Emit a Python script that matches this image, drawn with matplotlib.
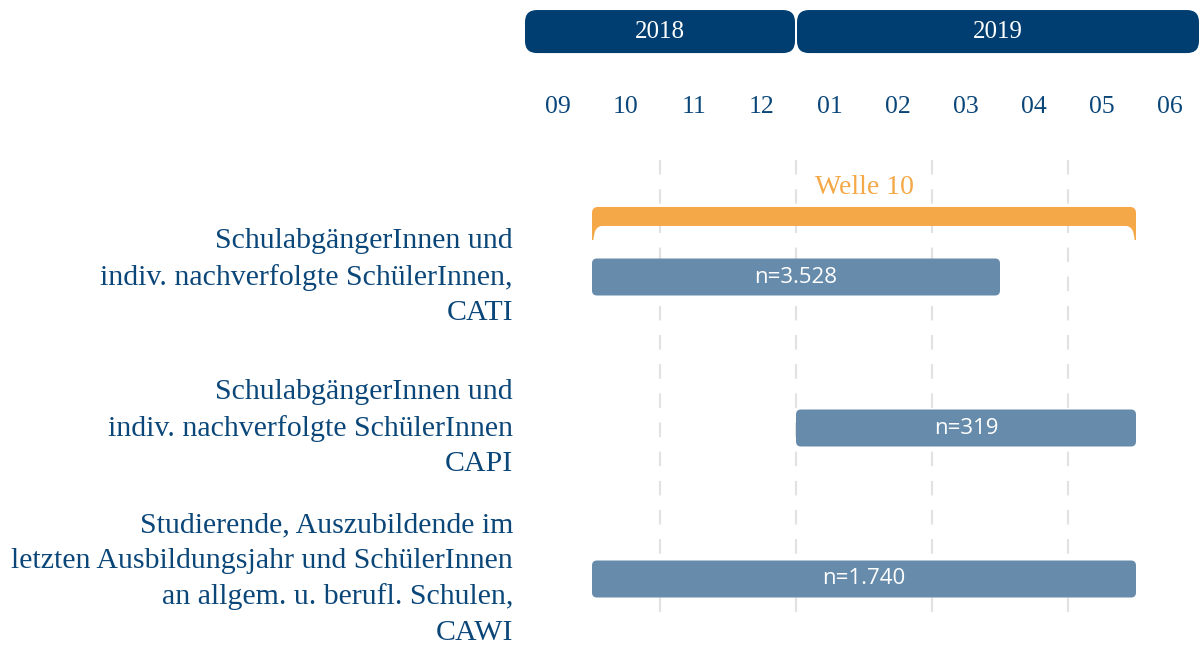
import matplotlib.pyplot as plt
import numpy as np
from matplotlib.patches import FancyBboxPatch, PathPatch
from matplotlib.path import Path

# months counted from 2018-09 (0) ... 2019-06 (9)
month_labels = ["09", "10", "11", "12", "01", "02", "03", "04", "05", "06"]
years = ["2018", "2019"]
year_start = [0, 4]
year_end = [4, 10]

groups = [
    "SchulabgängerInnen und\nindiv. nachverfolgte SchülerInnen,\nCATI",
    "SchulabgängerInnen und\nindiv. nachverfolgte SchülerInnen\nCAPI",
    "Studierende, Auszubildende im\nletzten Ausbildungsjahr und SchülerInnen\nan allgem. u. berufl. Schulen,\nCAWI",
]
bar_start = [1, 4, 1]
bar_end = [7, 9, 9]
bar_n = ["n=3.528", "n=319", "n=1.740"]

wave_label = "Welle 10"
wave_start, wave_end = 1, 9

navy = "#0b4679"
dark = "#003d70"
barcol = "#668bab"
orange = "#f5a847"
serif = ["Liberation Serif", "DejaVu Serif"]

fig = plt.figure(figsize=(12, 6.46), dpi=100)
ax = fig.add_axes([0, 0, 1, 1])
ax.set_xlim(-524 / 68, (1200 - 524) / 68)
ax.set_ylim((646 - 277) / 151, -277 / 151)
ax.axis("off")

px_x = 1 / 68   # one pixel in x units
px_y = 1 / 151  # one pixel in y units
asp = px_y / px_x

# gridlines every two months
for g in [2, 4, 6, 8]:
    ax.plot([g, g], [-0.775, 2.225], color="#e2e2e2", lw=1.5,
            dashes=(7, 7), zorder=0)

# year header
for yr, s, e in zip(years, year_start, year_end):
    x0 = s + 1 * px_x
    x1 = min(e, 9.941) - 1 * px_x
    y0, h = -1.768, 0.285
    ax.add_patch(FancyBboxPatch((x0, y0), x1 - x0, h,
                                boxstyle="round,pad=0,rounding_size=%f" % (12 * px_x),
                                mutation_aspect=asp, fc=dark, ec="none"))
    ax.text((x0 + x1) / 2, y0 + h / 2, yr, color="white", fontsize=18,
            family=serif, ha="center", va="center")

# month labels
for i, m in enumerate(month_labels):
    ax.text(i + 0.5, -1.126, m, color=navy, fontsize=18.5, family=serif,
            ha="center", va="center")

# wave bracket
top, band, tip = -0.464, -0.338, -0.245
r = 6 * px_x
ry = 6 * px_y
verts = [
    (wave_start, tip), (wave_start, top + ry),
    (wave_start, top), (wave_start + r, top),
    (wave_end - r, top),
    (wave_end, top), (wave_end, top + ry),
    (wave_end, tip),
    (wave_end - 1.5 * px_x, tip),
    (wave_end - 2 * px_x, band), (wave_end - 10 * px_x, band),
    (wave_start + 10 * px_x, band),
    (wave_start + 2 * px_x, band), (wave_start + 1.5 * px_x, tip),
    (wave_start, tip),
]
codes = [Path.MOVETO, Path.LINETO,
         Path.CURVE3, Path.CURVE3,
         Path.LINETO,
         Path.CURVE3, Path.CURVE3,
         Path.LINETO,
         Path.LINETO,
         Path.CURVE3, Path.CURVE3,
         Path.LINETO,
         Path.CURVE3, Path.CURVE3,
         Path.CLOSEPOLY]
ax.add_patch(PathPatch(Path(verts, codes), fc=orange, ec="none"))
ax.text((wave_start + wave_end) / 2, -0.596, wave_label, color=orange,
        fontsize=20, family=serif, ha="center", va="center")

# bars
bh = 0.245
for i, (s, e, n, g) in enumerate(zip(bar_start, bar_end, bar_n, groups)):
    ax.add_patch(FancyBboxPatch((s, i - bh / 2), e - s, bh,
                                boxstyle="round,pad=0,rounding_size=%f" % (5 * px_x),
                                mutation_aspect=asp, fc=barcol, ec="none"))
    ax.text((s + e) / 2, i, n, color="white", fontsize=16, family="Open Sans",
            ha="center", va="center")
    ax.text(-11 * px_x, i, g, color=navy, fontsize=21.5, family=serif,
            ha="right", va="center", linespacing=1.47)

fig.savefig("out.png", dpi=100)
